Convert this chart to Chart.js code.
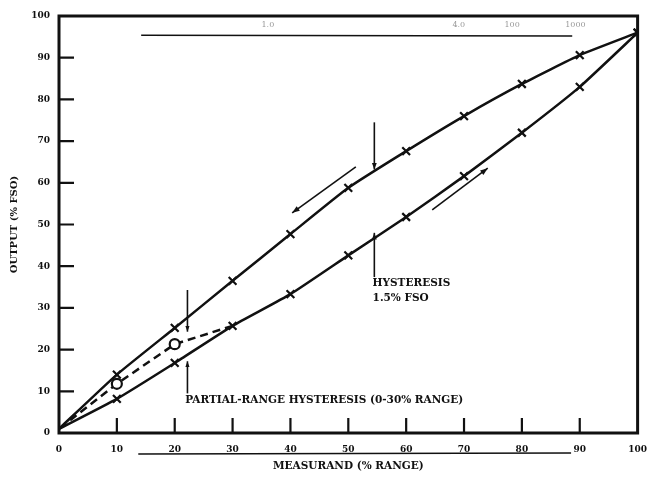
<!DOCTYPE html>
<html>
<head>
<meta charset="utf-8">
<script src="https://cdn.jsdelivr.net/npm/chart.js@4.4.1/dist/chart.umd.min.js"></script>
<style>
  html, body { margin: 0; padding: 0; background: #fff; }
  #wrap { width: 658px; height: 480px; }
</style>
</head>
<body>
<div id="wrap"><canvas id="hyst"></canvas></div>
<script>
// measurand (% range) and output (% FSO)
var measurand = [0, 10, 20, 30, 40, 50, 60, 70, 80, 90, 100];
var outputUp = [1, 8.2, 16.8, 25.7, 33.3, 42.6, 51.8, 61.6, 72, 83, 96];
var outputDown = [1, 14, 25.2, 36.5, 47.7, 58.8, 67.6, 76, 83.7, 90.6, 96];
// partial range 0-30%, return path
var partialX = [30, 20, 10, 0];
var partialOut = [25.7, 21.3, 11.8, 1];
var tickValues = [0, 10, 20, 30, 40, 50, 60, 70, 80, 90, 100];
var topLabels = [["1.0", 35], ["4.0", 68], ["100", 77], ["1000", 87.5]];

var ink = "#111";
var labelFont = { family: "'DejaVu Serif', serif", size: 9, weight: "bold" };

function pts(xs, ys) {
  var out = [];
  for (var i = 0; i < xs.length; i++) out.push({ x: xs[i], y: ys[i] });
  return out;
}

function arrowLine(ctx, x1, y1, x2, y2, head) {
  ctx.beginPath();
  ctx.moveTo(x1, y1);
  ctx.lineTo(x2, y2);
  ctx.stroke();
  if (head) {
    var a = Math.atan2(y2 - y1, x2 - x1);
    ctx.beginPath();
    ctx.moveTo(x2, y2);
    ctx.lineTo(x2 - head * Math.cos(a - 0.35), y2 - head * Math.sin(a - 0.35));
    ctx.lineTo(x2 - head * Math.cos(a + 0.35), y2 - head * Math.sin(a + 0.35));
    ctx.closePath();
    ctx.fill();
  }
}

// frame, inside ticks, arrows and notes
var decor = {
  id: "decor",
  afterDraw: function(chart) {
    var ctx = chart.ctx;
    var xs = chart.scales.x, ys = chart.scales.y;
    var ca = chart.chartArea;
    var X = function(v) { return xs.getPixelForValue(v); };
    var Y = function(v) { return ys.getPixelForValue(v); };
    ctx.save();
    ctx.strokeStyle = ink;
    ctx.fillStyle = ink;
    ctx.lineWidth = 3;
    ctx.strokeRect(ca.left, ca.top, ca.right - ca.left, ca.bottom - ca.top);

    ctx.lineWidth = 2.2;
    for (var i = 1; i < tickValues.length - 1; i++) {
      var t = tickValues[i];
      ctx.beginPath();
      ctx.moveTo(X(t), ca.bottom);
      ctx.lineTo(X(t), ca.bottom - 15);
      ctx.moveTo(ca.left, Y(t));
      ctx.lineTo(ca.left + 15, Y(t));
      ctx.stroke();
    }

    ctx.lineWidth = 1.6;
    // hysteresis arrows
    arrowLine(ctx, X(54.5), Y(74.5), X(54.5), Y(63.2), 7);
    arrowLine(ctx, X(54.5), Y(37.4), X(54.5), Y(48), 7);
    arrowLine(ctx, X(51.3), Y(63.8), X(40.3), Y(52.8), 8);
    arrowLine(ctx, X(64.5), Y(53.5), X(74.1), Y(63.5), 8);
    // partial range arrows
    arrowLine(ctx, X(22.2), Y(34.3), X(22.2), Y(24.3), 6);
    arrowLine(ctx, X(22.2), Y(9.5), X(22.2), Y(17.2), 6);

    // scan rules above and below
    ctx.lineWidth = 1.4;
    ctx.beginPath();
    ctx.moveTo(X(14.2), Y(95.4));
    ctx.lineTo(X(88.7), Y(95.2));
    ctx.moveTo(X(13.7), ca.bottom + 21);
    ctx.lineTo(X(88.5), ca.bottom + 20);
    ctx.stroke();

    ctx.font = "bold 10.5px 'DejaVu Serif', serif";
    ctx.textBaseline = "middle";
    ctx.fillText("HYSTERESIS", X(54.2), Y(36));
    ctx.fillText("1.5% FSO", X(54.2), Y(32.4));
    ctx.fillText("PARTIAL-RANGE HYSTERESIS (0-30% RANGE)", X(21.8), Y(7.9));

    ctx.fillStyle = "#999";
    ctx.font = "8px 'DejaVu Serif', serif";
    for (var k = 0; k < topLabels.length; k++) {
      ctx.fillText(topLabels[k][0], X(topLabels[k][1]), Y(97.8));
    }
    ctx.restore();
  }
};

new Chart(document.getElementById("hyst"), {
  type: "scatter",
  data: {
    datasets: [{
      data: pts(measurand, outputUp),
      showLine: true,
      borderColor: ink,
      borderWidth: 2.5,
      tension: 0.15,
      pointStyle: "crossRot",
      pointRadius: function(c) { return c.dataIndex === 0 ? 0 : 5.5; },
      pointBorderWidth: 2.2,
      pointBorderColor: ink
    }, {
      data: pts(measurand, outputDown),
      showLine: true,
      borderColor: ink,
      borderWidth: 2.5,
      tension: 0.15,
      pointStyle: "crossRot",
      pointRadius: function(c) { return c.dataIndex === 0 ? 0 : 5.5; },
      pointBorderWidth: 2.2,
      pointBorderColor: ink
    }, {
      data: pts(partialX, partialOut),
      showLine: true,
      borderColor: ink,
      borderWidth: 2.5,
      borderDash: [8, 5],
      tension: 0,
      pointStyle: "circle",
      pointRadius: function(c) { return (c.dataIndex === 1 || c.dataIndex === 2) ? 5 : 0; },
      pointBorderWidth: 2.2,
      pointBorderColor: ink,
      pointBackgroundColor: "#fff"
    }]
  },
  options: {
    responsive: true,
    maintainAspectRatio: false,
    animation: false,
    layout: { padding: { top: 16, right: 8, left: 0, bottom: 0 } },
    plugins: { legend: { display: false }, tooltip: { enabled: false } },
    scales: {
      x: {
        type: "linear",
        min: 0,
        max: 100,
        afterFit: function(s) { s.height = 47; },
        afterBuildTicks: function(s) { s.ticks = tickValues.map(function(v) { return { value: v }; }); },
        grid: { display: false, drawTicks: false },
        border: { display: false },
        ticks: { color: ink, font: labelFont, padding: 11, maxRotation: 0 },
        title: { display: true, text: "MEASURAND (% RANGE)", color: ink, font: { family: "'DejaVu Serif', serif", size: 10.5, weight: "bold" }, padding: { top: 4, bottom: 7 } }
      },
      y: {
        type: "linear",
        min: 0,
        max: 100,
        afterFit: function(s) { s.width = 59; },
        afterBuildTicks: function(s) { s.ticks = tickValues.map(function(v) { return { value: v }; }); },
        grid: { display: false, drawTicks: false },
        border: { display: false },
        ticks: { color: ink, font: labelFont, padding: 9 },
        title: { display: true, text: "OUTPUT (% FSO)", color: ink, font: { family: "'DejaVu Serif', serif", size: 10, weight: "bold" }, padding: { top: 8, bottom: 0 } }
      }
    }
  },
  plugins: [decor]
});
</script>
</body>
</html>
